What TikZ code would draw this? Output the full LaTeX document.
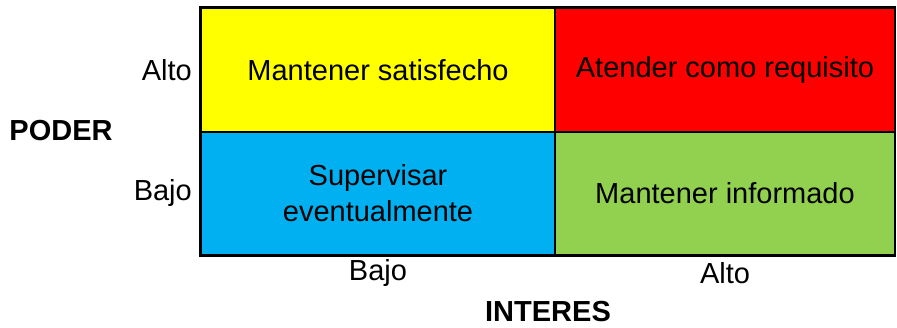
\documentclass[tikz,border=0pt]{standalone}
\usepackage{fontspec}
\setmainfont{Liberation Sans}
\definecolor{cyel}{HTML}{FFFF00}
\definecolor{cred}{HTML}{FF0000}
\definecolor{cblu}{HTML}{00B0F0}
\definecolor{cgrn}{HTML}{92D050}
\begin{document}
\begin{tikzpicture}[x=1pt,y=-1pt,
  cellline/.style={draw=black,line width=2.6pt},
  txt/.style={inner sep=0pt,align=center,font=\fontsize{29}{36}\selectfont},
  ttl/.style={font=\fontsize{29}{36}\selectfont\bfseries,inner sep=0pt}]
\useasboundingbox (0,0) rectangle (897,327);
\fill[cyel] (200.5,7.5) rectangle (555,132);
\fill[cred] (555,7.5) rectangle (895,132);
\fill[cblu] (200.5,132) rectangle (555,255.5);
\fill[cgrn] (555,132) rectangle (895,255.5);
\draw[cellline] (200.5,7.5) rectangle (895,255.5);
\draw[cellline] (555,7.5) -- (555,255.5);
\draw[cellline] (200.5,132) -- (895,132);
\node[txt] (a) at (378,70) {Mantener satisfecho};
\node[txt] (b) at (725,70) {Atender como requisito};
\node[txt] (c) at (378,193.5) {Supervisar\\eventualmente};
\node[txt] (d) at (725,193.5) {Mantener informado};
\node[txt,anchor=east] (alto1) at (192,70) {Alto};
\node[txt,anchor=east] (bajo1) at (192,193) {Bajo};
\node[txt] (bajo2) at (378,273) {Bajo};
\node[txt] (alto2) at (725,273) {Alto};
\node[ttl] (poder) at (61,131) {PODER};
\node[ttl] (int) at (548,312) {INTERES};
\end{tikzpicture}
\end{document}
